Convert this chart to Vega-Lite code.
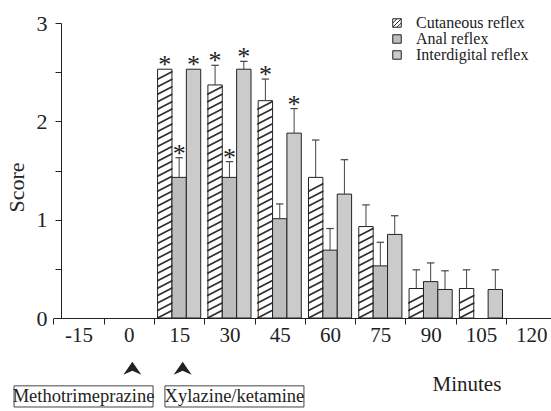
{
  "$schema": "https://vega.github.io/schema/vega-lite/v6.json",
  "width": 490,
  "height": 295,
  "autosize": "none",
  "padding": {"left": 61, "top": 23, "right": 0, "bottom": 93},
  "background": "white",
  "config": {
    "view": {"stroke": null},
    "font": "Liberation Serif",
    "axis": {"domainColor": "#222", "tickColor": "#222", "labelColor": "#222", "titleColor": "#222", "labelFont": "Liberation Serif", "titleFont": "Liberation Serif", "grid": false}
  },
  "datasets": {
    "scores": [
      {"time": "15", "reflex": "Cutaneous reflex", "score": 2.53, "upper": 2.53, "star": true},
      {"time": "15", "reflex": "Anal reflex", "score": 1.43, "upper": 1.63, "star": true},
      {"time": "15", "reflex": "Interdigital reflex", "score": 2.53, "upper": 2.53, "star": true},
      {"time": "30", "reflex": "Cutaneous reflex", "score": 2.37, "upper": 2.57, "star": true},
      {"time": "30", "reflex": "Anal reflex", "score": 1.43, "upper": 1.59, "star": true},
      {"time": "30", "reflex": "Interdigital reflex", "score": 2.53, "upper": 2.61, "star": true},
      {"time": "45", "reflex": "Cutaneous reflex", "score": 2.21, "upper": 2.43, "star": true},
      {"time": "45", "reflex": "Anal reflex", "score": 1.01, "upper": 1.16, "star": false},
      {"time": "45", "reflex": "Interdigital reflex", "score": 1.88, "upper": 2.13, "star": true},
      {"time": "60", "reflex": "Cutaneous reflex", "score": 1.43, "upper": 1.81, "star": false},
      {"time": "60", "reflex": "Anal reflex", "score": 0.69, "upper": 0.91, "star": false},
      {"time": "60", "reflex": "Interdigital reflex", "score": 1.26, "upper": 1.61, "star": false},
      {"time": "75", "reflex": "Cutaneous reflex", "score": 0.93, "upper": 1.15, "star": false},
      {"time": "75", "reflex": "Anal reflex", "score": 0.53, "upper": 0.77, "star": false},
      {"time": "75", "reflex": "Interdigital reflex", "score": 0.85, "upper": 1.04, "star": false},
      {"time": "90", "reflex": "Cutaneous reflex", "score": 0.30, "upper": 0.49, "star": false},
      {"time": "90", "reflex": "Anal reflex", "score": 0.37, "upper": 0.56, "star": false},
      {"time": "90", "reflex": "Interdigital reflex", "score": 0.29, "upper": 0.48, "star": false},
      {"time": "105", "reflex": "Cutaneous reflex", "score": 0.30, "upper": 0.49, "star": false},
      {"time": "105", "reflex": "Interdigital reflex", "score": 0.29, "upper": 0.49, "star": false}
    ],
    "arrows": [{"time": "0", "drug": "Methotrimeprazine"}, {"time": "15", "drug": "Xylazine/ketamine"}],
    "boxes": [{"time": "-15", "label": "Methotrimeprazine"}, {"time": "30", "label": "Xylazine/ketamine"}],
    "unit": [{"time": "105", "label": "Minutes"}]
  },
  "layer": [
    {
      "data": {"name": "scores"},
      "mark": {"type": "bar", "stroke": "#222", "strokeWidth": 1},
      "encoding": {
        "x": {
          "field": "time", "type": "ordinal", "sort": null,
          "scale": {"domain": ["-15", "0", "15", "30", "45", "60", "75", "90", "105", "120"], "range": [-7.6, 495.4], "paddingInner": 0, "paddingOuter": 0},
          "axis": {"title": null, "tickBand": "extent", "labelAngle": 0, "labelFontSize": 21, "tickSize": 6, "labelPadding": 0}
        },
        "xOffset": {
          "field": "reflex", "type": "nominal", "sort": null,
          "scale": {"domain": ["Cutaneous reflex", "Anal reflex", "Interdigital reflex"], "paddingInner": 0, "paddingOuter": 0.25}
        },
        "y": {
          "field": "score", "type": "quantitative",
          "scale": {"domain": [0, 3], "nice": false},
          "axis": {"title": "Score", "values": [0, 0.5, 1, 1.5, 2, 2.5, 3], "labelExpr": "datum.value % 1 === 0 ? format(datum.value, 'd') : ''", "tickSize": 6, "labelPadding": 8, "labelFontSize": 22, "titleFontSize": 22, "titleFontWeight": "normal", "titlePadding": 8, "titleY": 164}
        },
        "fill": {
          "field": "reflex", "type": "nominal", "sort": null,
          "scale": {"domain": ["Cutaneous reflex", "Anal reflex", "Interdigital reflex"], "range": ["#ffffff", "#bdbdbd", "#cbcbcb"]},
          "legend": {
            "orient": "none", "legendX": 328, "legendY": -8, "title": null, "padding": 0,
            "symbolType": "square", "symbolSize": 72, "symbolStrokeColor": "#222", "symbolStrokeWidth": 1,
            "labelFont": "Liberation Serif", "labelFontSize": 16, "labelColor": "#222", "labelOffset": 11, "rowPadding": 0,
            "encode": {
              "symbols": {"update": {"shape": {"signal": "datum.value === 'Cutaneous reflex' ? 'M-1,-1H1V1H-1Z M-1,1L1,-1 M-1,0L0,-1 M0,1L1,0' : 'square'"}}}
            }
          }
        }
      }
    },
    {
      "data": {"name": "scores"},
      "transform": [{"filter": "datum.reflex === 'Cutaneous reflex'"}],
      "mark": {"type": "text", "font": "DejaVu Sans Mono", "fontSize": 12.4, "angle": 270, "align": "left", "baseline": "middle",
        "fill": "#222", "stroke": "#222", "strokeWidth": 0.5,
        "text": "╲╲╲╲╲╲╲╲╲╲╲╲╲╲╲╲╲╲╲╲╲╲╲╲╲╲╲╲╲╲╲╲╲╲╲╲╲╲╲╲",
        "limit": {"expr": "scale('y', 0) - scale('y', datum.score)"},
        "ellipsis": "╲"},
      "encoding": {
        "x": {"field": "time", "type": "ordinal", "sort": null},
        "xOffset": {"field": "reflex", "type": "nominal", "sort": null},
        "y": {"datum": 0, "type": "quantitative"}
      }
    },
    {
      "data": {"name": "scores"},
      "transform": [{"filter": "datum.upper > datum.score"}],
      "mark": {"type": "rule", "stroke": "#444", "strokeWidth": 1},
      "encoding": {
        "x": {"field": "time", "type": "ordinal", "sort": null},
        "xOffset": {"field": "reflex", "type": "nominal", "sort": null},
        "y": {"field": "score", "type": "quantitative"},
        "y2": {"field": "upper"}
      }
    },
    {
      "data": {"name": "scores"},
      "transform": [{"filter": "datum.upper > datum.score"}],
      "mark": {"type": "point", "shape": "M-1,0L1,0", "size": 56, "filled": false, "stroke": "#444", "strokeWidth": 1.2, "opacity": 1},
      "encoding": {
        "x": {"field": "time", "type": "ordinal", "sort": null},
        "xOffset": {"field": "reflex", "type": "nominal", "sort": null},
        "y": {"field": "upper", "type": "quantitative"}
      }
    },
    {
      "data": {"name": "scores"},
      "transform": [{"filter": "datum.star"}],
      "mark": {"type": "text", "text": "*", "font": "Liberation Serif", "fontSize": 26, "baseline": "alphabetic", "align": "center", "dy": 4, "fill": "#222"},
      "encoding": {
        "x": {"field": "time", "type": "ordinal", "sort": null},
        "xOffset": {"field": "reflex", "type": "nominal", "sort": null},
        "y": {"field": "upper", "type": "quantitative"}
      }
    },
    {
      "data": {"name": "arrows"},
      "mark": {"type": "point", "shape": "M0,-0.72L1,0.72L0,0.3L-1,0.72Z", "size": 324, "filled": true, "fill": "#222", "stroke": null, "opacity": 1, "xOffset": 3.5},
      "encoding": {
        "x": {"field": "time", "type": "ordinal", "sort": null},
        "y": {"datum": -0.51, "type": "quantitative"}
      }
    },
    {
      "data": {"name": "boxes"},
      "mark": {"type": "bar", "width": 139, "fill": "transparent", "stroke": "#444", "strokeWidth": 1, "xOffset": 5},
      "encoding": {
        "x": {"field": "time", "type": "ordinal", "sort": null},
        "y": {"datum": -0.69, "type": "quantitative"},
        "y2": {"datum": -0.905}
      }
    },
    {
      "data": {"name": "boxes"},
      "mark": {"type": "text", "font": "Liberation Serif", "fontSize": 18.5, "baseline": "middle", "align": "center", "fill": "#222", "dx": 5},
      "encoding": {
        "x": {"field": "time", "type": "ordinal", "sort": null},
        "y": {"datum": -0.795, "type": "quantitative"},
        "text": {"field": "label"}
      }
    },
    {
      "data": {"name": "unit"},
      "mark": {"type": "text", "font": "Liberation Serif", "fontSize": 21, "baseline": "middle", "align": "center", "dx": -14, "fill": "#222"},
      "encoding": {
        "x": {"field": "time", "type": "ordinal", "sort": null},
        "y": {"datum": -0.68, "type": "quantitative"},
        "text": {"field": "label"}
      }
    }
  ]
}
